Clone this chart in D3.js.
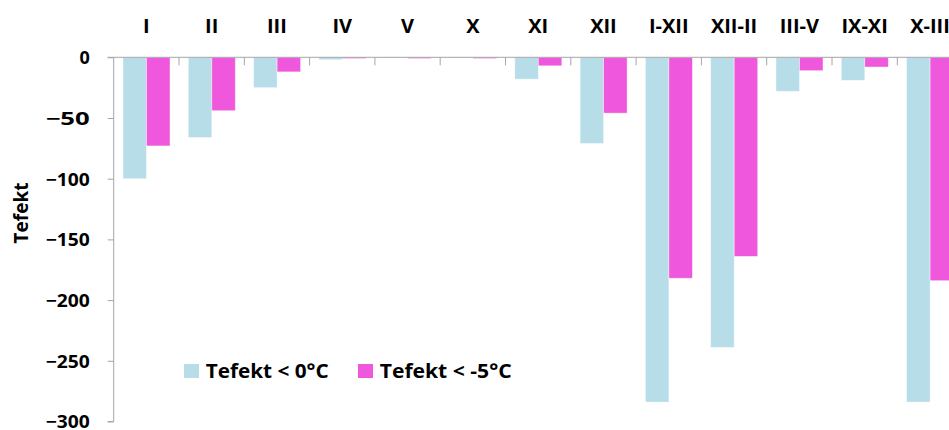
<!DOCTYPE html>
<html>
<head>
<meta charset="utf-8">
<script src="https://cdn.jsdelivr.net/npm/d3@7"></script>
<style>
  body { margin: 0; background: #fff; }
  text { font-family: "Open Sans", "DejaVu Sans", sans-serif; font-weight: bold; fill: #000; }
</style>
</head>
<body>
<div id="chart-area"></div>
<script>
// periods shown along the top
var categories = ['I', 'II', 'III', 'IV', 'V', 'X', 'XI', 'XII', 'I-XII', 'XII-II', 'III-V', 'IX-XI', 'X-III'];
var seriesNames = ['Tefekt < 0°C', 'Tefekt < -5°C'];
var below0 = [-100, -66, -25, -2, -0.5, -0.5, -18, -71, -284, -239, -28, -19, -284];
var belowMinus5 = [-73, -44, -12, -1, -1, -1, -7, -46, -182, -164, -11, -8, -184];
var yTicks = [0, -50, -100, -150, -200, -250, -300];
var colors = ['#b7dde8', '#ef58dc'];

var width = 949, height = 430;
var left = 113.7, top0 = 57.3, bottom = 421.5;

var svg = d3.select('#chart-area').append('svg')
    .attr('width', width)
    .attr('height', height);

var data = categories.map((c, i) => {
    return { cat: c, values: [below0[i], belowMinus5[i]] };
});

var x0 = d3.scaleBand()
    .domain(categories)
    .range([left, left + 13 * 65.3])
    .padding(0);

var x1 = d3.scaleBand()
    .domain([0, 1])
    .range([9.3, 56.3]);

var y = d3.scaleLinear()
    .domain([0, -300])
    .range([top0, bottom]);

// bars
var groups = svg.selectAll('g.cat')
    .data(data)
    .enter().append('g')
        .attr('class', 'cat')
        .attr('transform', (d) => 'translate(' + x0(d.cat) + ',0)');

groups.selectAll('rect')
    .data((d) => d.values)
    .enter().append('rect')
        .attr('x', (v, i) => x1(i))
        .attr('y', y(0))
        .attr('width', x1.bandwidth())
        .attr('height', (v) => y(v) - y(0))
        .attr('fill', (v, i) => colors[i])
        .attr('stroke', '#fff')
        .attr('stroke-opacity', 0.5)
        .attr('stroke-width', 0.8);

// y axis
var yAxis = d3.axisLeft(y)
    .tickValues(yTicks)
    .tickSize(6)
    .tickPadding(18)
    .tickFormat(d3.format('d'));

var gy = svg.append('g')
    .attr('transform', 'translate(' + left + ',0)')
    .call(yAxis);
gy.select('.domain').attr('stroke', '#a6a6a6').attr('d', 'M-6,' + top0 + 'H0V' + bottom + 'H-6');
gy.selectAll('.tick line').attr('stroke', '#a6a6a6');
gy.selectAll('.tick text')
    .attr('font-size', 18)
    .attr('font-family', '"Open Sans", sans-serif')
    .attr('font-weight', 'bold')
    .attr('fill', '#000')
    .attr('dy', '0.36em')
    .attr('textLength', (d) => d === 0 ? null : 44)
    .attr('lengthAdjust', 'spacingAndGlyphs');

// x axis line along zero, with boundary ticks pointing down
svg.append('line')
    .attr('x1', left).attr('x2', width)
    .attr('y1', y(0)).attr('y2', y(0))
    .attr('stroke', '#a6a6a6');

svg.selectAll('line.xtick')
    .data(categories.slice(1))
    .enter().append('line')
        .attr('class', 'xtick')
        .attr('x1', (d) => x0(d)).attr('x2', (d) => x0(d))
        .attr('y1', y(0)).attr('y2', y(0) + 8)
        .attr('stroke', '#a6a6a6');

// category labels on top
svg.selectAll('text.xlab')
    .data(categories)
    .enter().append('text')
        .attr('class', 'xlab')
        .attr('x', (d) => x0(d) + x0.bandwidth() / 2)
        .attr('y', 33.3)
        .attr('text-anchor', 'middle')
        .attr('font-size', 20)
        .text((d) => d);

// axis title
svg.append('text')
    .attr('transform', 'translate(28,213) rotate(-90)')
    .attr('text-anchor', 'middle')
    .attr('font-size', 19)
    .text('Tefekt');

// legend
var legendX = [184, 358];
var legend = svg.selectAll('g.legend')
    .data(seriesNames)
    .enter().append('g')
        .attr('class', 'legend')
        .attr('transform', (d, i) => 'translate(' + legendX[i] + ',364)');

legend.append('rect')
    .attr('width', 15)
    .attr('height', 14)
    .attr('fill', (d, i) => colors[i]);

legend.append('text')
    .attr('x', 21.7)
    .attr('y', 14.3)
    .attr('font-size', 20)
    .attr('textLength', (d, i) => i === 0 ? 123 : 132)
    .attr('lengthAdjust', 'spacingAndGlyphs')
    .text((d) => d);
</script>
</body>
</html>
